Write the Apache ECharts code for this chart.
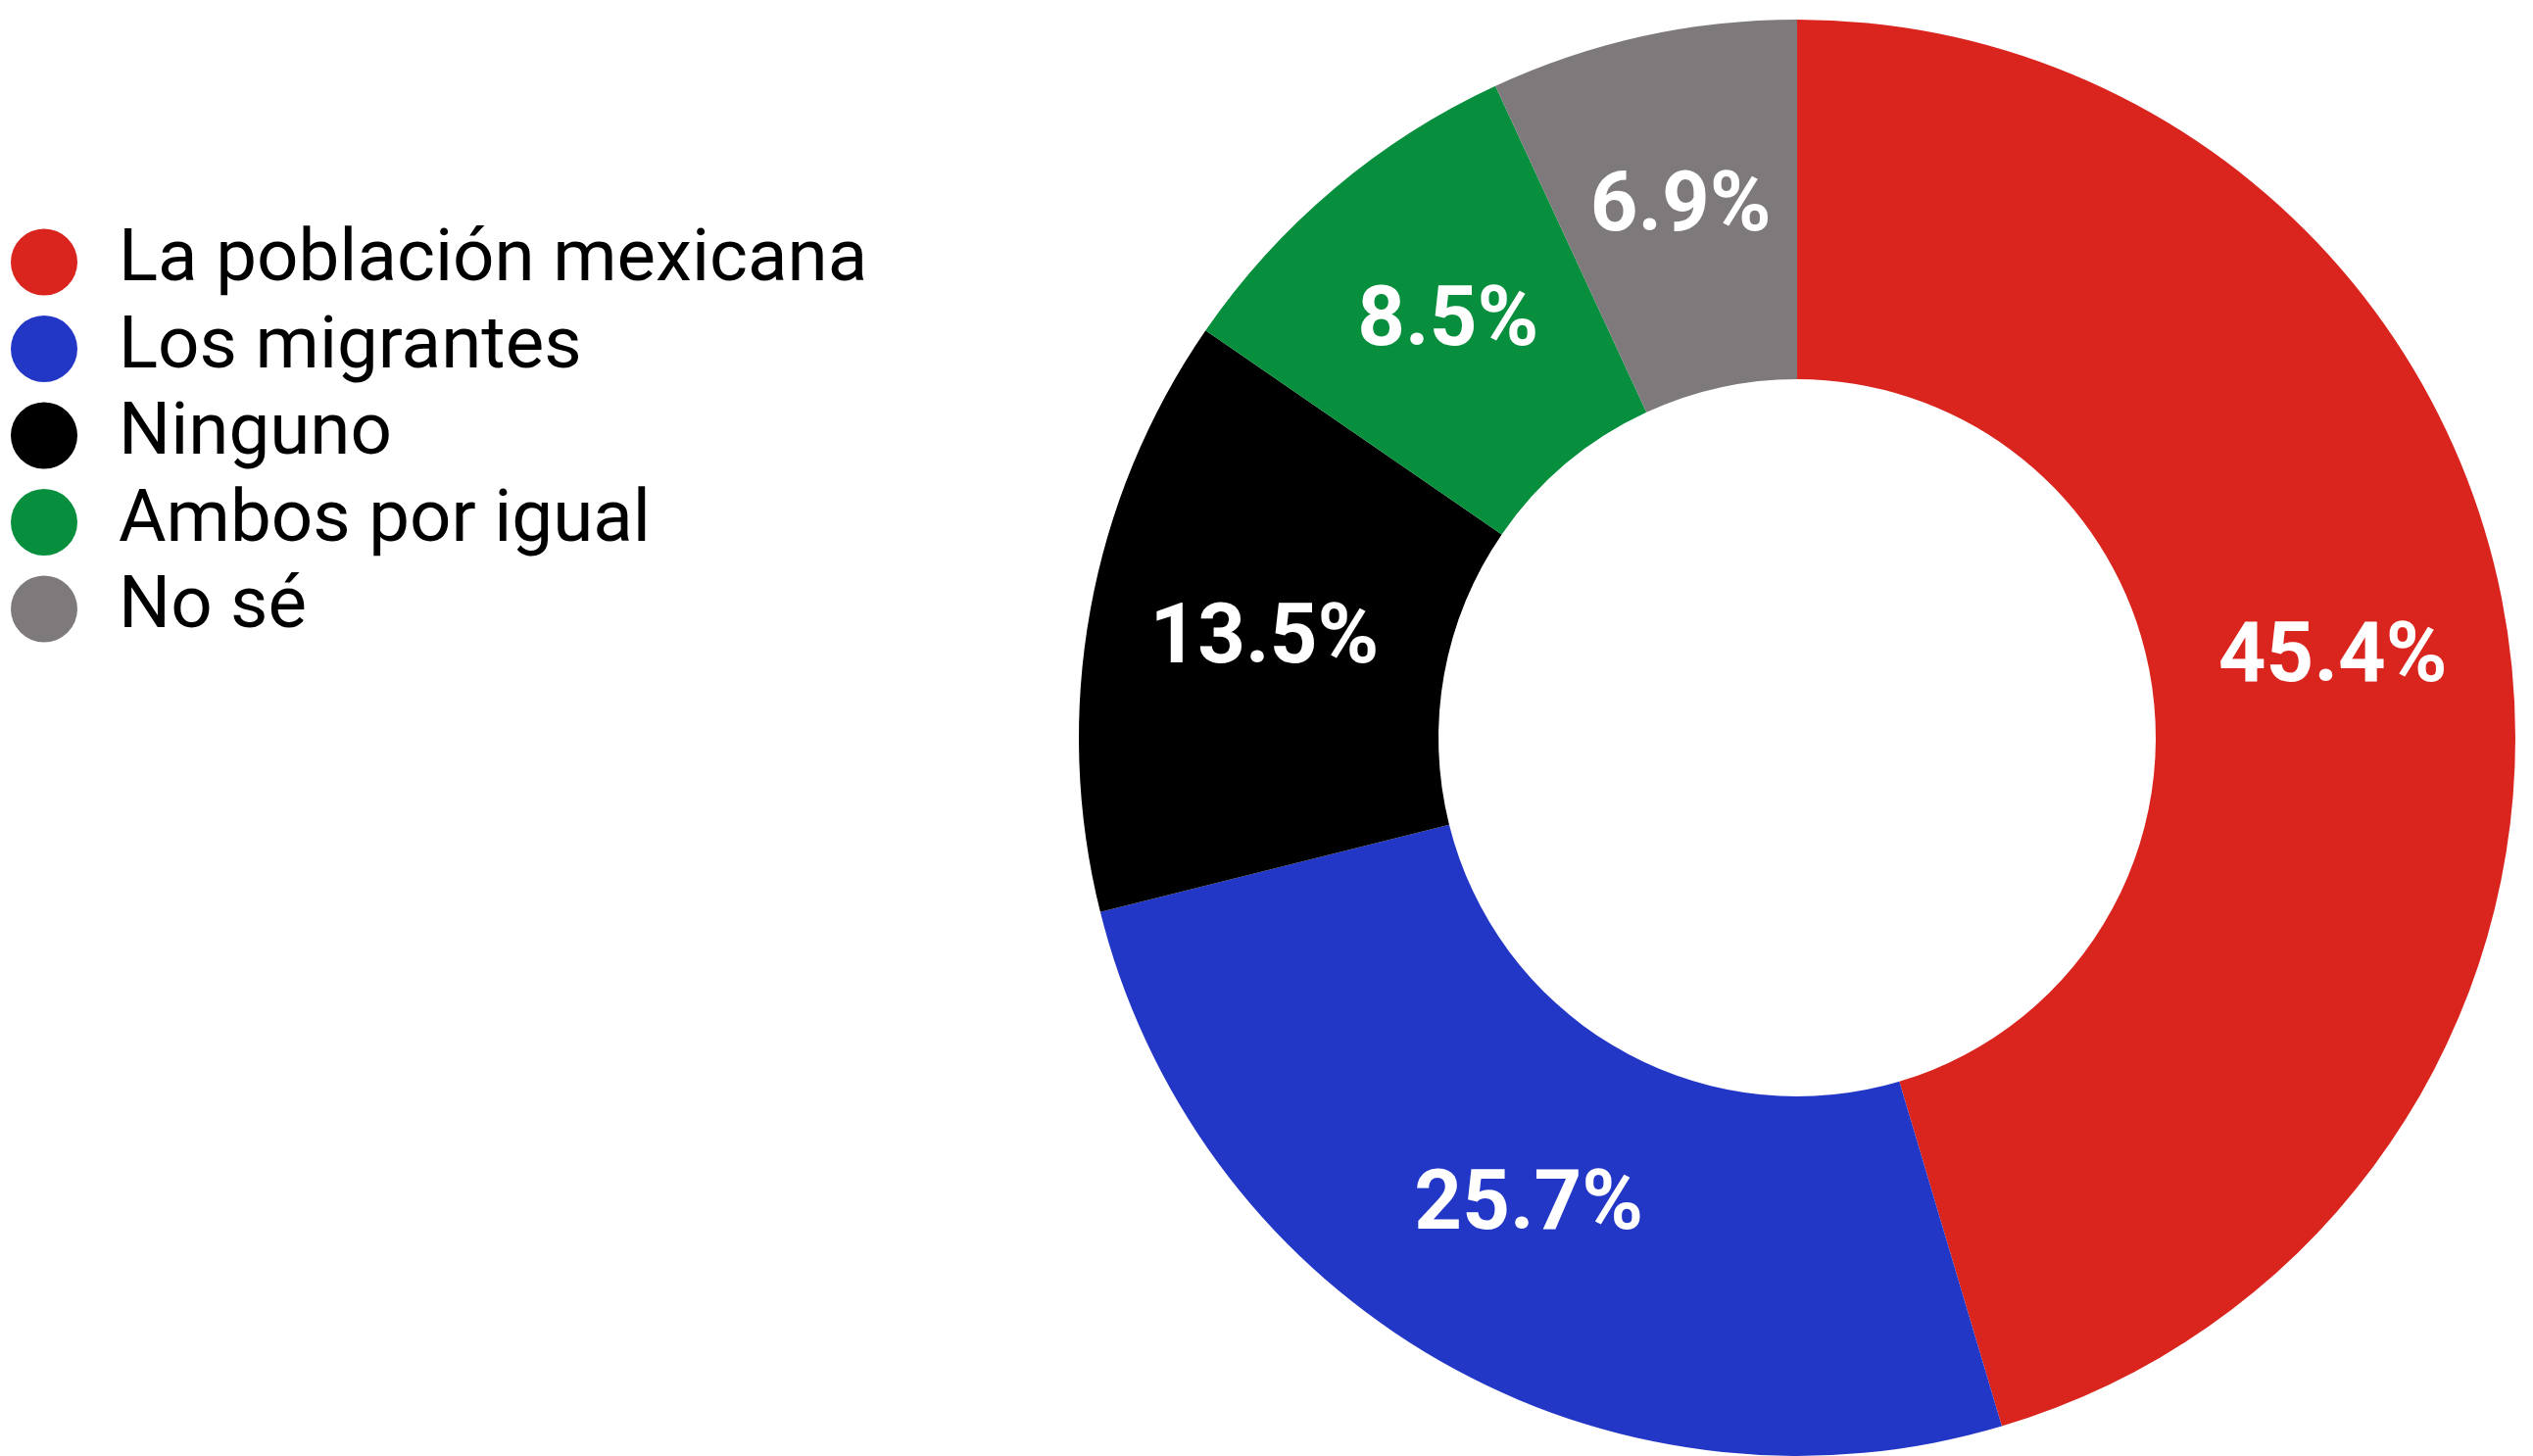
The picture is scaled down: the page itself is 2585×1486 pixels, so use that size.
<!DOCTYPE html>
<html>
<head>
<meta charset="utf-8">
<script src="https://cdn.jsdelivr.net/npm/echarts@6/dist/echarts.min.js"></script>
<style>
html,body{margin:0;padding:0;background:#fff;}
#chart{width:2585px;height:1486px;}
</style>
</head>
<body>
<div id="chart"></div>
<script>
const categories = ["La población mexicana", "Los migrantes", "Ninguno", "Ambos por igual", "No sé"];
const values = [45.4, 25.7, 13.5, 8.5, 6.9];
const colors = ["#D9251E", "#2337C6", "#000000", "#078F3D", "#7E7A7B"];

const chart = echarts.init(document.getElementById('chart'), null, {renderer: 'canvas'});
chart.setOption({
  animation: false,
  backgroundColor: '#ffffff',
  legend: {
    orient: 'vertical',
    left: 11,
    top: 230,
    padding: 0,
    icon: 'circle',
    itemWidth: 68,
    itemHeight: 68,
    itemGap: 13.5,
    data: categories,
    textStyle: {
      fontFamily: 'Roboto',
      fontSize: 74.5,
      color: '#000',
      padding: [0, 0, 0, 37]
    }
  },
  series: [{
    type: 'pie',
    center: [1834, 753],
    radius: [366, 733],
    startAngle: 90,
    clockwise: true,
    avoidLabelOverlap: false,
    label: {
      show: true,
      position: 'inside',
      formatter: function (p) { return p.value.toFixed(1) + '%'; },
      color: '#ffffff',
      fontFamily: 'Roboto',
      fontWeight: 'bold',
      fontSize: 85
    },
    labelLine: {show: false},
    emphasis: {disabled: true},
    data: categories.map((c, i) => ({name: c, value: values[i], itemStyle: {color: colors[i]}}))
  }]
});
</script>
</body>
</html>
